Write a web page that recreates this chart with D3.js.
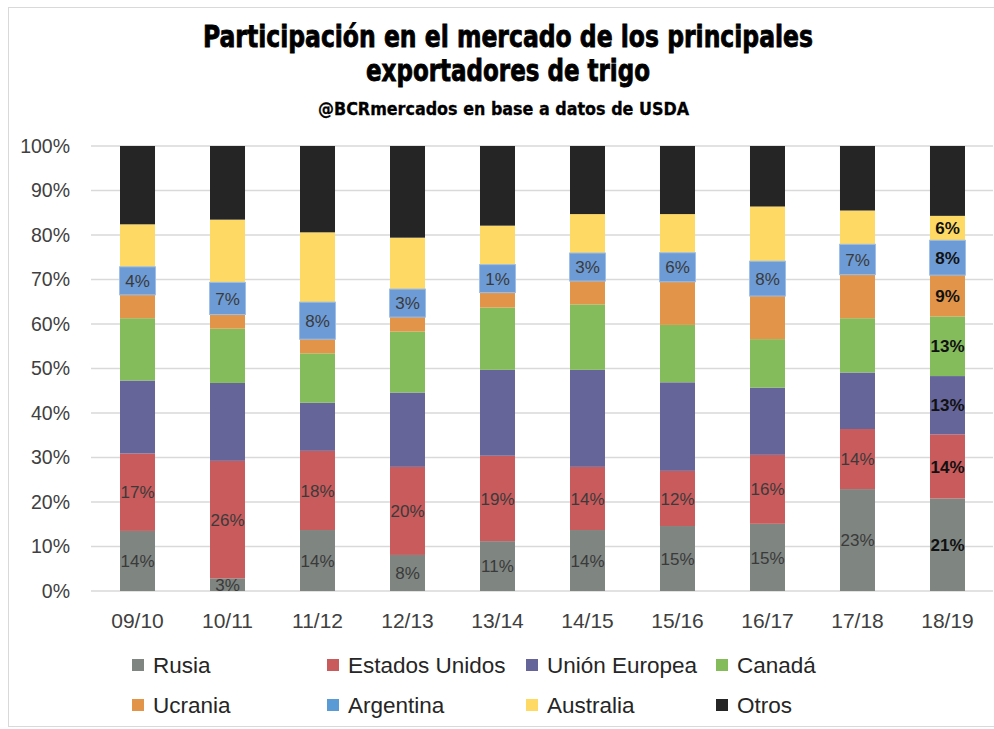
<!DOCTYPE html>
<html>
<head>
<meta charset="utf-8">
<script src="https://cdn.jsdelivr.net/npm/d3@7"></script>
<style>
  body { margin: 0; background: #fff; }
  svg { display: block; font-family: "Liberation Sans", Arial, sans-serif; }
</style>
</head>
<body>
<div id="chart"></div>
<script>
const width = 994, height = 729;

// campañas y participación (%) de cada exportador
const seasons = ["09/10", "10/11", "11/12", "12/13", "13/14", "14/15", "15/16", "16/17", "17/18", "18/19"];
const rusia     = [13.5, 2.85, 13.7, 8.1, 11.2, 13.7, 14.6, 15.1, 22.9, 20.8];
const eeuu      = [17.4, 26.4, 17.8, 19.8, 19.2, 14.2, 12.4, 15.5, 13.5, 14.4];
const ue        = [16.4, 17.5, 10.8, 16.7, 19.3, 21.8, 19.9, 15.1, 12.7, 13.1];
const canada    = [14.0, 12.2, 11.1, 13.7, 14.0, 14.7, 12.9, 10.9, 12.2, 13.4];
const ucrania   = [6.4, 3.3, 3.3, 4.9, 6.0, 6.9, 9.8, 9.8, 9.9, 9.4];
const argentina = [4.0, 7.0, 8.1, 3.0, 1.0, 3.0, 6.3, 7.6, 6.6, 7.6];
const australia = [10.7, 14.2, 15.8, 13.2, 11.4, 10.4, 8.8, 12.4, 7.7, 5.6];
const otros     = [17.6, 16.55, 19.4, 20.6, 17.9, 15.3, 15.3, 13.6, 14.5, 15.7];

const seriesNames = ["Rusia", "Estados Unidos", "Unión Europea", "Canadá", "Ucrania", "Argentina", "Australia", "Otros"];
const seriesValues = [rusia, eeuu, ue, canada, ucrania, argentina, australia, otros];
const yTicks = [0, 10, 20, 30, 40, 50, 60, 70, 80, 90, 100];

const color = d3.scaleOrdinal()
  .domain(seriesNames)
  .range(["#7f8581", "#c95b5c", "#65659a", "#84bb5b", "#e29549", "#6d9bd6", "#fed963", "#252525"]);

// tabla para d3.stack
const rows = seasons.map((s, i) => {
  const r = { season: s };
  seriesNames.forEach((n, j) => r[n] = seriesValues[j][i]);
  return r;
});
const stacked = d3.stack().keys(seriesNames)(rows);

const svg = d3.select("#chart").append("svg")
  .attr("width", width).attr("height", height);

// borde del área del gráfico
svg.append("rect")
  .attr("x", 8.5).attr("y", 7.5).attr("width", 1000).attr("height", 719)
  .attr("fill", "none").attr("stroke", "#d9d9d9");

// títulos
const titleFont = '"Liberation Sans Narrow", "DejaVu Sans Condensed", "Arial Narrow", sans-serif';
svg.append("text")
  .attr("x", 508).attr("y", 47).attr("text-anchor", "middle")
  .attr("textLength", 610).attr("lengthAdjust", "spacingAndGlyphs")
  .style("font-family", titleFont).style("font-weight", "bold").style("font-size", "31px")
  .attr("stroke", "#000").attr("stroke-width", 0.8)
  .text("Participación en el mercado de los principales");
svg.append("text")
  .attr("x", 508).attr("y", 81).attr("text-anchor", "middle")
  .attr("textLength", 284).attr("lengthAdjust", "spacingAndGlyphs")
  .style("font-family", titleFont).style("font-weight", "bold").style("font-size", "31px")
  .attr("stroke", "#000").attr("stroke-width", 0.8)
  .text("exportadores de trigo");
svg.append("text")
  .attr("x", 503.5).attr("y", 115).attr("text-anchor", "middle")
  .attr("textLength", 371).attr("lengthAdjust", "spacingAndGlyphs")
  .style("font-family", titleFont).style("font-weight", "bold").style("font-size", "18.5px")
  .attr("stroke", "#000").attr("stroke-width", 0.3)
  .text("@BCRmercados  en base a datos de USDA");

// escalas
const x = d3.scaleBand().domain(seasons).range([92.5, 992.5])
  .paddingInner(0.611).paddingOuter(0.3056);
const y = d3.scaleLinear().domain([0, 100]).range([591, 146]);

// grilla
svg.append("g")
  .selectAll("line").data(yTicks).join("line")
  .attr("x1", 91).attr("x2", 993)
  .attr("y1", d => y(d)).attr("y2", d => y(d))
  .attr("stroke", "#d9d9d9").attr("stroke-width", 1.3);

// eje Y
const yAxis = svg.append("g")
  .attr("transform", "translate(70,0)")
  .call(d3.axisLeft(y).tickValues(yTicks).tickFormat(d => d + "%").tickSize(0).tickPadding(0));
yAxis.select(".domain").remove();
yAxis.selectAll("text")
  .style("font-size", "19.5px").attr("fill", "#404040")
  .style("font-family", '"Liberation Sans", Arial, sans-serif');

// eje X
const xAxis = svg.append("g")
  .attr("transform", "translate(0,591)")
  .call(d3.axisBottom(x).tickSize(0).tickPadding(22));
xAxis.select(".domain").remove();
xAxis.selectAll("text")
  .style("font-size", "21px").attr("fill", "#404040")
  .style("font-family", '"Liberation Sans", Arial, sans-serif');

// barras apiladas
const layers = svg.append("g").selectAll("g").data(stacked).join("g")
  .attr("fill", d => color(d.key));
layers.selectAll("rect").data(d => d).join("rect")
  .attr("x", d => x(d.data.season))
  .attr("width", x.bandwidth())
  .attr("y", d => y(d[1]))
  .attr("height", d => y(d[0]) - y(d[1]));

// etiquetas de datos
const lastSeason = seasons[seasons.length - 1];
const labelled = ["Rusia", "Estados Unidos", "Argentina"];
const labels = [];
stacked.forEach(layer => {
  layer.forEach(d => {
    const isLast = d.data.season === lastSeason;
    if (layer.key === "Otros") return;
    if (!isLast && !labelled.includes(layer.key)) return;
    labels.push({ key: layer.key, season: d.data.season, y0: d[0], y1: d[1], bold: isLast });
  });
});

const lab = svg.append("g").selectAll("g").data(labels).join("g");

// cuadro azul detrás de las etiquetas de Argentina
const boxH = d => Math.max(y(d.y0) - y(d.y1) + 1, 28);
lab.filter(d => d.key === "Argentina").append("rect")
  .attr("x", d => x(d.season) - 0.5)
  .attr("width", x.bandwidth() + 1)
  .attr("y", d => (y(d.y0) + y(d.y1)) / 2 - boxH(d) / 2)
  .attr("height", boxH)
  .attr("fill", color("Argentina"))
  .attr("stroke", "#9fbfe8").attr("stroke-width", 1);

lab.append("text")
  .attr("x", d => x(d.season) + x.bandwidth() / 2)
  .attr("y", d => (y(d.y0) + y(d.y1)) / 2)
  .attr("dy", "0.36em")
  .attr("text-anchor", "middle")
  .style("font-size", "17px")
  .style("font-weight", d => d.bold ? "bold" : "normal")
  .attr("fill", d => d.bold ? "#111" : "#3a3a3a")
  .text(d => Math.round(d.y1 - d.y0) + "%");

// leyenda
const legendCols = [132, 327, 526, 716];
const legendRows = [665, 705];
const legend = svg.append("g").selectAll("g").data(seriesNames).join("g")
  .attr("transform", (d, i) => `translate(${legendCols[i % 4]},${legendRows[Math.floor(i / 4)]})`);
legend.append("rect")
  .attr("x", 0).attr("y", -6).attr("width", 12).attr("height", 12)
  .attr("fill", d => d === "Argentina" ? "#5b9bd5" : color(d));
legend.append("text")
  .attr("x", 21).attr("dy", "0.36em")
  .style("font-size", "22.5px").attr("fill", "#262626")
  .text(d => d);
</script>
</body>
</html>
